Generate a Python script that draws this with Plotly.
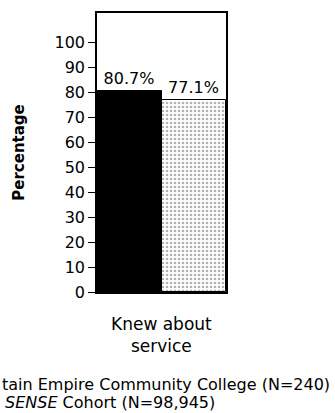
import plotly.graph_objects as go

categories = ["Knew about<br>service"]
college_values = [80.7]
cohort_values = [77.1]
college_labels = ["80.7%"]
cohort_labels = ["77.1%"]
tick_vals = [0, 10, 20, 30, 40, 50, 60, 70, 80, 90, 100]
# legend text as visible in the (cropped) reference
legend_lines = [
    "tain Empire Community College (N=240)",
    "<i>SENSE</i> Cohort (N=98,945)",
]

FONT = "DejaVu Sans, Arial, sans-serif"
W, H = 335, 413
ML, MR, MT, MB = 97, 109, 13, 121
PW = W - ML - MR
PH = H - MT - MB

fig = go.Figure()
fig.add_trace(go.Bar(
    x=categories, y=college_values, name="college",
    marker=dict(color="black", line=dict(color="black", width=1)),
    text=college_labels, textposition="outside", cliponaxis=False,
    textfont=dict(family=FONT, size=16, color="black"),
))
fig.add_trace(go.Bar(
    x=categories, y=cohort_values, name="cohort",
    marker=dict(color="white", line=dict(color="black", width=1),
                pattern=dict(shape=".", fgcolor="#666666", bgcolor="white",
                             size=4, solidity=0.35)),
    text=cohort_labels, textposition="outside", cliponaxis=False,
    textfont=dict(family=FONT, size=16, color="black"),
))

fig.update_layout(
    width=W, height=H,
    margin=dict(l=ML, r=MR, t=MT, b=MB, pad=0),
    paper_bgcolor="white", plot_bgcolor="white",
    barmode="group", bargap=0, bargroupgap=0,
    showlegend=False,
    font=dict(family=FONT, color="black"),
)
fig.update_xaxes(
    range=[-0.5, 0.5], showticklabels=False, ticks="",
    showline=True, linecolor="black", linewidth=1.5, mirror=True,
    showgrid=False, zeroline=False,
)
fig.update_yaxes(
    range=[0, 112], tickvals=tick_vals, ticks="outside", ticklen=7,
    tickwidth=1, tickcolor="black",
    tickfont=dict(family=FONT, size=16, color="black"),
    showline=True, linecolor="black", linewidth=1.5, mirror=True,
    showgrid=False, zeroline=False,
    title=dict(text="<b>Percentage</b>", font=dict(family=FONT, size=15, color="black"),
               standoff=26),
)

fig.add_annotation(
    xref="paper", yref="paper", x=0.5, y=(H - MB - 312) / PH,
    text=categories[0], showarrow=False, xanchor="center", yanchor="top",
    font=dict(family=FONT, size=17, color="black"), align="center",
)

legend_x_px = [0, 3]
legend_y_px = [384, 402]
for line, xpx, ypx in zip(legend_lines, legend_x_px, legend_y_px):
    fig.add_annotation(
        xref="paper", yref="paper",
        x=(xpx - ML) / PW, y=(H - MB - ypx) / PH,
        text=line, showarrow=False, xanchor="left", yanchor="middle",
        font=dict(family=FONT, size=16, color="black"),
    )

fig.write_html("out.html")
